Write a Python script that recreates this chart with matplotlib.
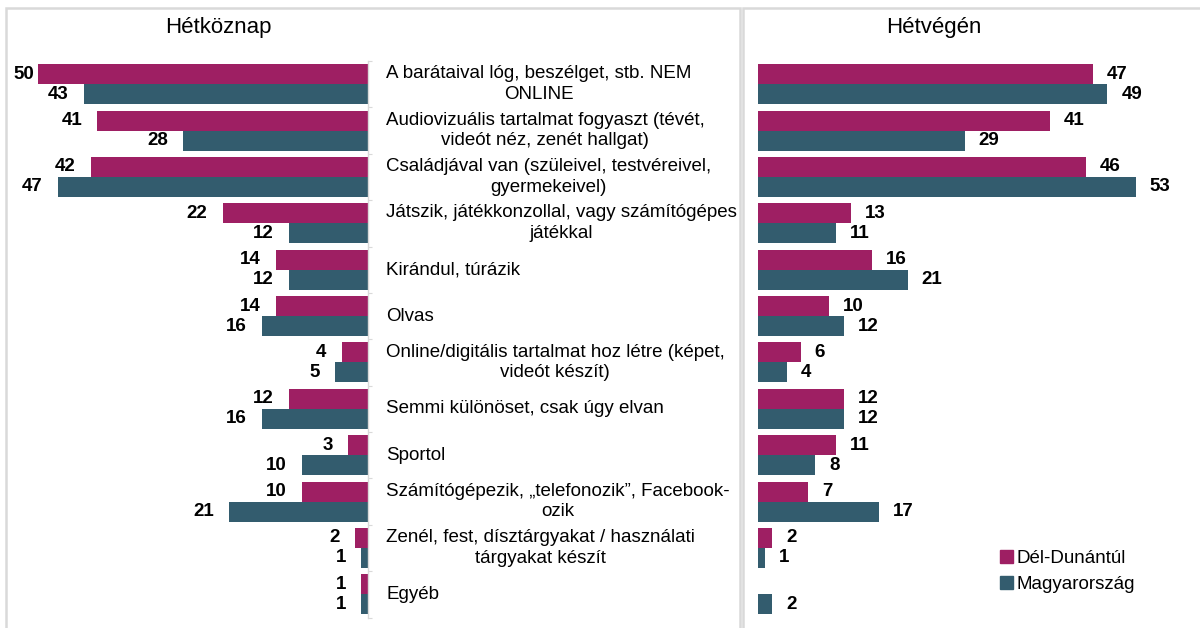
import numpy as np
import matplotlib.pyplot as plt
from matplotlib.patches import Rectangle, Patch
from matplotlib.transforms import blended_transform_factory

plt.rcParams['font.family'] = ['Liberation Sans', 'DejaVu Sans']

# adatok
categories = [
    "A barátaival lóg, beszélget, stb. NEM\nONLINE",
    "Audiovizuális tartalmat fogyaszt (tévét,\nvideót néz, zenét hallgat)",
    "Családjával van (szüleivel, testvéreivel,\ngyermekeivel)",
    "Játszik, játékkonzollal, vagy számítógépes\njátékkal",
    "Kirándul, túrázik",
    "Olvas",
    "Online/digitális tartalmat hoz létre (képet,\nvideót készít)",
    "Semmi különöset, csak úgy elvan",
    "Sportol",
    "Számítógépezik, „telefonozik”, Facebook-\nozik",
    "Zenél, fest, dísztárgyakat / használati\ntárgyakat készít",
    "Egyéb",
]
hetkoznap_dd = [50, 41, 42, 22, 14, 14, 4, 12, 3, 10, 2, 1]
hetkoznap_hu = [43, 28, 47, 12, 12, 16, 5, 16, 10, 21, 1, 1]
hetvegen_dd = [47, 41, 46, 13, 16, 10, 6, 12, 11, 7, 2, 0]
hetvegen_hu = [49, 29, 53, 11, 21, 12, 4, 12, 8, 17, 1, 2]
series_names = ["Dél-Dunántúl", "Magyarország"]

c_dd = '#9E1F63'
c_hu = '#335C6E'
W, H = 1200, 628
fs = 13.5

fig = plt.figure(figsize=(12, 6.28), dpi=100)


def fx(px):
    return px / W


def fy(py):
    return 1 - py / H


# keretek
fig.add_artist(Rectangle((fx(6), fy(632)), fx(740 - 6), (632 - 8) / H,
                         transform=fig.transFigure, fill=False,
                         ec='#D9D9D9', lw=1.8))
fig.add_artist(Rectangle((fx(743), fy(632)), fx(1203 - 743), (632 - 8) / H,
                         transform=fig.transFigure, fill=False,
                         ec='#D9D9D9', lw=1.8))

top, bottom = 61, 617.5
n = len(categories)
y = np.arange(n)
bh = 0.43

# bal panel - hétköznap
ax1 = fig.add_axes([fx(10), fy(bottom), fx(368 - 10), (bottom - top) / H])
ax1.barh(y - bh / 2, hetkoznap_dd, height=bh, color=c_dd)
ax1.barh(y + bh / 2, hetkoznap_hu, height=bh, color=c_hu)
ax1.set_xlim((368 - 10) / 6.6, 0)
ax1.set_ylim(n - 0.5, -0.5)
for s in ['left', 'top', 'bottom']:
    ax1.spines[s].set_visible(False)
ax1.spines['right'].set_color('#D9D9D9')
ax1.spines['right'].set_linewidth(1)
ax1.set_xticks([])
ax1.yaxis.tick_right()
ax1.set_yticks(np.arange(-0.5, n, 1))
ax1.set_yticklabels([])
ax1.tick_params(axis='y', direction='out', length=3, color='#D9D9D9')


def left_label(v, yy):
    # a leghosszabb oszlopnál közelebb kerül a címke, hogy kiférjen
    off = -3 if v >= 50 else -11
    ax1.annotate(str(v), (v, yy), xytext=(off, 0), textcoords='offset points',
                 ha='right', va='center', fontsize=fs, fontweight='bold')


for i in range(n):
    left_label(hetkoznap_dd[i], i - bh / 2)
    left_label(hetkoznap_hu[i], i + bh / 2)

# kategóriák
tr = blended_transform_factory(fig.transFigure, ax1.transData)
for i, cat in enumerate(categories):
    ax1.text(fx(386), i, cat, transform=tr, ha='left', va='center',
             multialignment='center', fontsize=fs, linespacing=1.28)

# jobb panel - hétvégén
ax2 = fig.add_axes([fx(758), fy(bottom), fx(1195 - 758), (bottom - top) / H])
ax2.barh(y - bh / 2, hetvegen_dd, height=bh, color=c_dd)
ax2.barh(y + bh / 2, hetvegen_hu, height=bh, color=c_hu)
ax2.set_xlim(0, (1195 - 758) / 7.13)
ax2.set_ylim(n - 0.5, -0.5)
ax2.axis('off')

for i in range(n):
    if hetvegen_dd[i] > 0:
        ax2.annotate(str(hetvegen_dd[i]), (hetvegen_dd[i], i - bh / 2),
                     xytext=(10, 0), textcoords='offset points',
                     ha='left', va='center', fontsize=fs, fontweight='bold')
    ax2.annotate(str(hetvegen_hu[i]), (hetvegen_hu[i], i + bh / 2),
                 xytext=(10, 0), textcoords='offset points',
                 ha='left', va='center', fontsize=fs, fontweight='bold')

fig.text(fx(218), fy(27), "Hétköznap", ha='center', va='center', fontsize=16)
fig.text(fx(934), fy(27), "Hétvégén", ha='center', va='center', fontsize=16)

handles = [Patch(color=c_dd), Patch(color=c_hu)]
fig.legend(handles, series_names, loc='upper left',
           bbox_to_anchor=(fx(992), fy(542)), frameon=False, fontsize=fs,
           handlelength=0.7, handleheight=0.7, handletextpad=0.2,
           labelspacing=0.5, borderaxespad=0)

fig.savefig('out.png', dpi=100)
